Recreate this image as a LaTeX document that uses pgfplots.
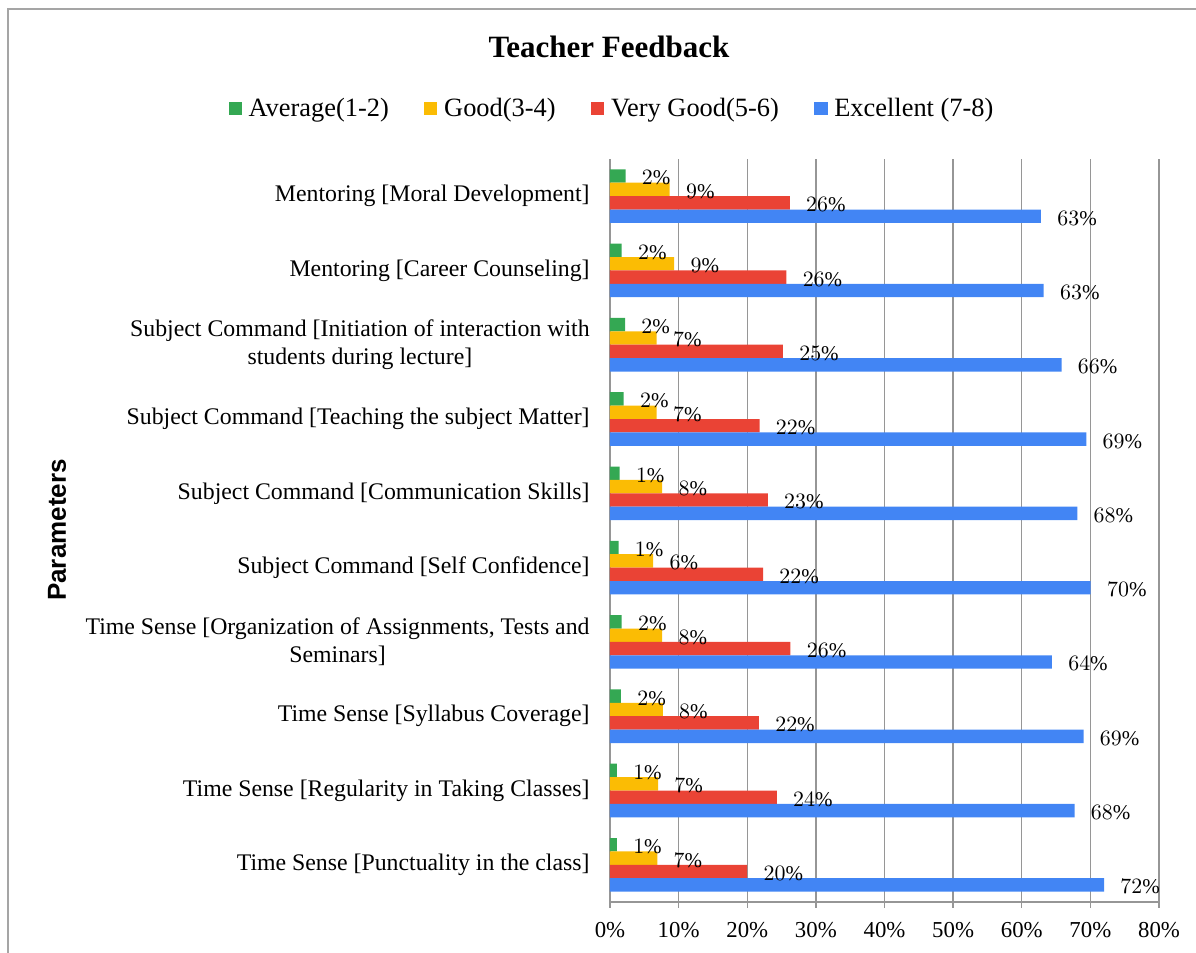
\documentclass[border=0pt]{standalone}
\usepackage{fontspec}
\setmainfont{Liberation Serif}
\newfontfamily\arialfont{Liberation Sans}
\usepackage{pgfplots}
\pgfplotsset{compat=1.18}
\definecolor{cgreen}{HTML}{34A853}
\definecolor{cyellow}{HTML}{FBBC04}
\definecolor{cred}{HTML}{EA4335}
\definecolor{cblue}{HTML}{4285F4}
\definecolor{gridgray}{RGB}{150,150,150}
\definecolor{framegray}{RGB}{165,165,165}
\begin{document}
\begin{tikzpicture}
\begin{axis}[
  at={(305pt,25.5pt)}, anchor=south west,
  scale only axis, width=274.5pt, height=371.5pt,
  xbar=0pt, bar width=6.7pt,
  xmin=0, xmax=80, ymin=-0.5, ymax=9.5,
  xtick={0,10,20,30,40,50,60,70,80},
  xticklabels={0\%,10\%,20\%,30\%,40\%,50\%,60\%,70\%,80\%},
  ytick={0,1,2,3,4,5,6,7,8,9},
  yticklabels={
    Time Sense [Punctuality in the class],
    Time Sense [Regularity in Taking Classes],
    Time Sense [Syllabus Coverage],
    {Time Sense [Organization of Assignments, Tests and\\Seminars]},
    Subject Command [Self Confidence],
    Subject Command [Communication Skills],
    Subject Command [Teaching the subject Matter],
    {Subject Command [Initiation of interaction with\\students during lecture]},
    Mentoring [Career Counseling],
    Mentoring [Moral Development]},
  yticklabel style={align=center, font=\fontsize{11.9}{14.2}\selectfont, anchor=east, inner sep=0pt, xshift=-7pt},
  xticklabel style={font=\fontsize{11.4}{13}\selectfont, anchor=north, inner sep=0pt, yshift=-7pt},
  xmajorgrids, major grid style={gridgray, line width=0.65pt},
  axis x line*=bottom, axis y line*=left,
  axis line style={gridgray, line width=0.65pt},
  tick align=outside, major tick length=3pt,
  xtick style={gridgray, line width=0.65pt},
  ytick style={draw=none},
  point meta=x,
  nodes near coords={\pgfmathprintnumber[fixed,precision=0]{\pgfplotspointmeta}\%},
  nodes near coords style={font=\fontsize{10.5}{12}\selectfont, anchor=west, inner sep=0pt, xshift=8pt, yshift=-1pt, text=black},
  legend style={at={(0.004,1.068)}, anchor=center, draw=none, fill=none,
    font=\fontsize{13.2}{15}\selectfont, legend columns=4,
    nodes={inner xsep=1.2pt, inner ysep=2pt},
    /tikz/every odd column/.append style={column sep=2.2pt},
    /tikz/every even column/.append style={column sep=16.5pt}},
  legend image code/.code={\fill[#1] (0pt,-3.3pt) rectangle (6.6pt,3.3pt);},
]
\addplot[fill=cgreen, draw=none, bar shift=10.05pt] coordinates {
 (2.27,9) (1.7,8) (2.2,7) (2.0,6) (1.4,5) (1.24,4) (1.7,3) (1.6,2) (1.0,1) (1.0,0)};
\addplot[fill=cyellow, draw=none, bar shift=3.35pt] coordinates {
 (8.7,9) (9.35,8) (6.8,7) (6.8,6) (7.6,5) (6.3,4) (7.6,3) (7.7,2) (7.0,1) (6.9,0)};
\addplot[fill=cred, draw=none, bar shift=-3.35pt] coordinates {
 (26.2,9) (25.7,8) (25.2,7) (21.8,6) (23.0,5) (22.3,4) (26.3,3) (21.7,2) (24.3,1) (20.0,0)};
\addplot[fill=cblue, draw=none, bar shift=-10.05pt] coordinates {
 (62.8,9) (63.2,8) (65.8,7) (69.4,6) (68.1,5) (70.05,4) (64.4,3) (69.0,2) (67.7,1) (72.0,0)};
\legend{Average(1-2), Good(3-4), Very Good(5-6), Excellent (7-8)}
\end{axis}
\node[font=\bfseries\fontsize{15.5}{18}\selectfont] at (304.5pt,453pt) {Teacher Feedback};
\node[rotate=90, font=\arialfont\bfseries\fontsize{13}{15}\selectfont] at (28.5pt,211.5pt) {Parameters};
\draw[framegray, line width=0.75pt] (4pt,-5pt) -- (4pt,472pt) -- (605pt,472pt);
\pgfresetboundingbox
\useasboundingbox (0,0) rectangle (598pt,476.5pt);
\end{tikzpicture}
\end{document}
